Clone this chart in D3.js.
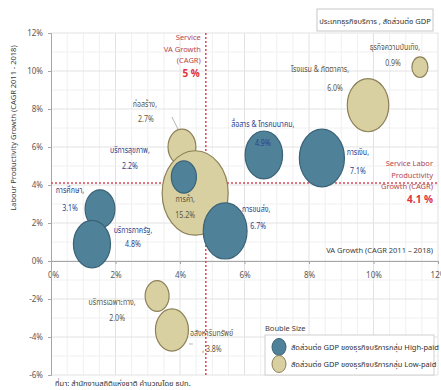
<!DOCTYPE html>
<html><head><meta charset="utf-8">
<script src="https://cdn.jsdelivr.net/npm/d3@7"></script>
<style>
body{margin:0;background:#fff;}
text{font-family:"Noto Sans Thai","Tahoma","DejaVu Sans",sans-serif;}
</style></head>
<body><svg id="c" width="441" height="390"></svg>
<script>
// ---- data ----
const names = ["ธุรกิจความบันเทิง,","โรงแรม & ภัตตาคาร,","ก่อสร้าง,","การค้า,","บริการเฉพาะทาง,","อสังหาริมทรัพย์",
               "สื่อสาร & โทรคมนาคม,","การเงิน,","บริการสุขภาพ,","การขนส่ง,","การศึกษา,","บริการภาครัฐ,"];
const groups = ["Low","Low","Low","Low","Low","Low","High","High","High","High","High","High"];
const vaGrowth = [11.44, 9.83, 4.06, 4.47, 3.29, 3.75, 6.6, 8.4, 4.12, 5.4, 1.52, 1.27];
const prodGrowth = [10.2, 8.2, 6.0, 3.58, -1.84, -3.63, 5.58, 5.42, 4.42, 1.58, 2.74, 0.89];
const gdpShare = [0.9, 6.0, 2.7, 15.2, 2.0, 3.8, 4.9, 7.1, 2.2, 6.7, 3.1, 4.8];
const shareLabels = ["0.9%","6.0%","2.7%","15.2%","2.0%",", 3.8%","4.9%","7.1%","2.2%","6.7%","3.1%","4.8%"];
// label offsets (name, value) relative to bubble centre in px
const labelDx = [-25,-48,-37,-10,-45,18, -1,36,-54,31,-30,41];
const labelDy = [-17,-33,-40,9,9,6, -28,-3,-24,-19,-16,-11];
const valueDx = [-19,-33,-36,-10,-40,40, -1,36,-54,33,-30,41];
const valueDy = [-1,-14,-25,25,25,22, -9,16,-8,-2,2,3];
const valueAnchor = ["end","middle","middle","middle","middle","middle","middle","middle","middle","middle","middle","middle"];
const xTicks = [0,2,4,6,8,10,12];
const yTicks = [-6,-4,-2,0,2,4,6,8,10,12];
const serviceVA = 4.8, serviceVALabel = "5 %";
const serviceLP = 4.1, serviceLPLabel = "4.1 %";

const svg = d3.select("#c");
const x = d3.scaleLinear().domain([0,12]).range([51,438]);
const y = d3.scaleLinear().domain([-6,12]).range([375,33]);
const r = d3.scaleSqrt().domain([0,15.2]).range([0,33]);
const stretch = 1.28;
const fill = {High:"#4f8199", Low:"#d8d0a0"};
const stroke = {High:"#3a6377", Low:"#8c8159"};
const txt = {High:"#2d3f8c", Low:"#5d5640"};
const sx = 0.78; // horizontal condensing of Thai labels

// grid
const g = svg.append("g");
g.selectAll("line.vg").data(d3.range(0.5,12.01,0.5)).join("line")
 .attr("x1",d=>x(d)).attr("x2",d=>x(d)).attr("y1",y(12)).attr("y2",y(-6))
 .attr("stroke",d=>d%2===0?"#e2e2e2":"#f0f0f0").attr("stroke-width",1);
g.selectAll("line.hg").data(d3.range(-6,12.01,1)).join("line")
 .attr("x1",x(0)).attr("x2",x(12)).attr("y1",d=>y(d)).attr("y2",d=>y(d))
 .attr("stroke",d=>d%2===0?"#e2e2e2":"#f0f0f0").attr("stroke-width",1);

// axes
const xa = svg.append("g").attr("transform",`translate(0,${y(0)})`)
  .call(d3.axisBottom(x).tickValues(xTicks).tickFormat(d=>d+"%").tickSize(3).tickPadding(8));
const ya = svg.append("g").attr("transform",`translate(${x(0)},0)`)
  .call(d3.axisLeft(y).tickValues(yTicks).tickFormat(d=>d+"%").tickSize(3).tickPadding(5));
[xa,ya].forEach(a=>{
  a.select(".domain").attr("stroke","#a6a6a6");
  a.selectAll(".tick line").attr("stroke","#a6a6a6");
  a.selectAll("text").attr("fill","#595959").attr("font-size",8);
});
xa.select(".tick text").attr("dx",2);

// reference lines
svg.append("line").attr("x1",x(serviceVA)).attr("x2",x(serviceVA)).attr("y1",y(12)).attr("y2",y(-6))
  .attr("stroke","#d9485a").attr("stroke-width",1.5).attr("stroke-dasharray","2,2");
svg.append("line").attr("x1",x(0)).attr("x2",x(12)).attr("y1",y(serviceLP)).attr("y2",y(serviceLP))
  .attr("stroke","#d9485a").attr("stroke-width",1.5).attr("stroke-dasharray","2,2");

// leader lines
svg.append("line").attr("x1",x(vaGrowth[2])-10).attr("x2",x(vaGrowth[2])-3).attr("y1",y(prodGrowth[2])-30).attr("y2",y(prodGrowth[2])-16)
  .attr("stroke","#a0a0a0").attr("stroke-width",0.8);
svg.append("line").attr("x1",x(vaGrowth[5])+17).attr("x2",x(vaGrowth[5])+21).attr("y1",y(prodGrowth[5])+14).attr("y2",y(prodGrowth[5])+14)
  .attr("stroke","#a0a0a0").attr("stroke-width",0.8);

// bubbles (low-paid first, then high-paid on top)
const idx = d3.range(names.length);
svg.append("g").selectAll("ellipse").data(idx).join("ellipse")
  .attr("cx",i=>x(vaGrowth[i])).attr("cy",i=>y(prodGrowth[i]))
  .attr("rx",i=>r(gdpShare[i])).attr("ry",i=>r(gdpShare[i])*stretch)
  .attr("fill",i=>fill[groups[i]]).attr("stroke",i=>stroke[groups[i]]).attr("stroke-width",1.2);

// labels
const lab = svg.append("g");
lab.selectAll("g.n").data(idx).join("g")
  .attr("transform",i=>`translate(${x(vaGrowth[i])+labelDx[i]},${y(prodGrowth[i])+labelDy[i]}) scale(${sx},1)`)
  .append("text")
  .attr("text-anchor",i=>i===5?"start":"middle").attr("font-size",9)
  .attr("fill",i=>txt[groups[i]]).text(i=>names[i]);
lab.selectAll("g.v").data(idx).join("g")
  .attr("transform",i=>`translate(${x(vaGrowth[i])+valueDx[i]},${y(prodGrowth[i])+valueDy[i]}) scale(${sx},1)`)
  .append("text")
  .attr("text-anchor",i=>valueAnchor[i]).attr("font-size",9)
  .attr("fill",i=>txt[groups[i]]).text(i=>shareLabels[i]);

// red annotations
const ann1 = ["Service","VA Growth","(CAGR)"];
svg.append("g").selectAll("text").data(ann1).join("text")
  .attr("x",x(serviceVA)-5).attr("y",(d,i)=>40+i*11.5).attr("text-anchor","end")
  .attr("font-size",7.5).attr("fill","#b5474f").text(d=>d);
svg.append("text").attr("x",x(serviceVA)-6).attr("y",77).attr("text-anchor","end")
  .attr("font-size",10).attr("font-weight","bold").attr("fill","#e0323c").text(serviceVALabel);
const ann2 = ["Service Labor","Productivity","Growth (CAGR)"];
svg.append("g").selectAll("text").data(ann2).join("text")
  .attr("x",433).attr("y",(d,i)=>166+i*11.5).attr("text-anchor","end")
  .attr("font-size",7.5).attr("fill","#b5474f").text(d=>d);
svg.append("text").attr("x",433).attr("y",203).attr("text-anchor","end")
  .attr("font-size",10).attr("font-weight","bold").attr("fill","#e0323c").text(serviceLPLabel);

// axis titles
svg.append("text").attr("x",433).attr("y",253).attr("text-anchor","end").attr("font-size",7.5)
  .attr("fill","#404040").text("VA Growth (CAGR 2011 – 2018)");
svg.append("text").attr("transform","translate(16,128) rotate(-90)").attr("text-anchor","middle")
  .attr("font-size",7.5).attr("fill","#404040").text("Labour Productivity Growth (CAGR 2011 - 2018)");

// top legend box
svg.append("rect").attr("x",317).attr("y",9).attr("width",116).attr("height",22)
  .attr("fill","#fff").attr("stroke","#c8c8c8");
svg.append("text").attr("x",375).attr("y",24).attr("text-anchor","middle").attr("font-size",7.5)
  .attr("fill","#303030").text("ประเภทธุรกิจบริการ , สัดส่วนต่อ GDP");

// bubble size legend
const legItems = ["สัดส่วนต่อ GDP ของธุรกิจบริการกลุ่ม High-paid","สัดส่วนต่อ GDP ของธุรกิจบริการกลุ่ม Low-paid"];
const legGroups = ["High","Low"];
svg.append("text").attr("x",265).attr("y",331).attr("font-size",7.5).attr("fill","#404040").text("Bouble Size");
svg.append("rect").attr("x",265).attr("y",335).attr("width",169).attr("height",40)
  .attr("fill","#fff").attr("stroke","#d0d0d0");
const lg = svg.append("g").selectAll("g").data(legItems).join("g")
  .attr("transform",(d,i)=>`translate(279,${347+i*17})`);
lg.append("ellipse").attr("rx",7).attr("ry",8.5)
  .attr("fill",(d,i)=>fill[legGroups[i]]).attr("stroke",(d,i)=>stroke[legGroups[i]]);
lg.append("text").attr("x",12).attr("y",3).attr("font-size",7.5).attr("fill","#303030").text(d=>d);

// source
svg.append("text").attr("x",55).attr("y",386).attr("font-size",7.5).attr("fill","#303030")
  .text("ที่มา: สำนักงานสถิติแห่งชาติ คำนวณโดย ธปท.");
</script></body></html>
